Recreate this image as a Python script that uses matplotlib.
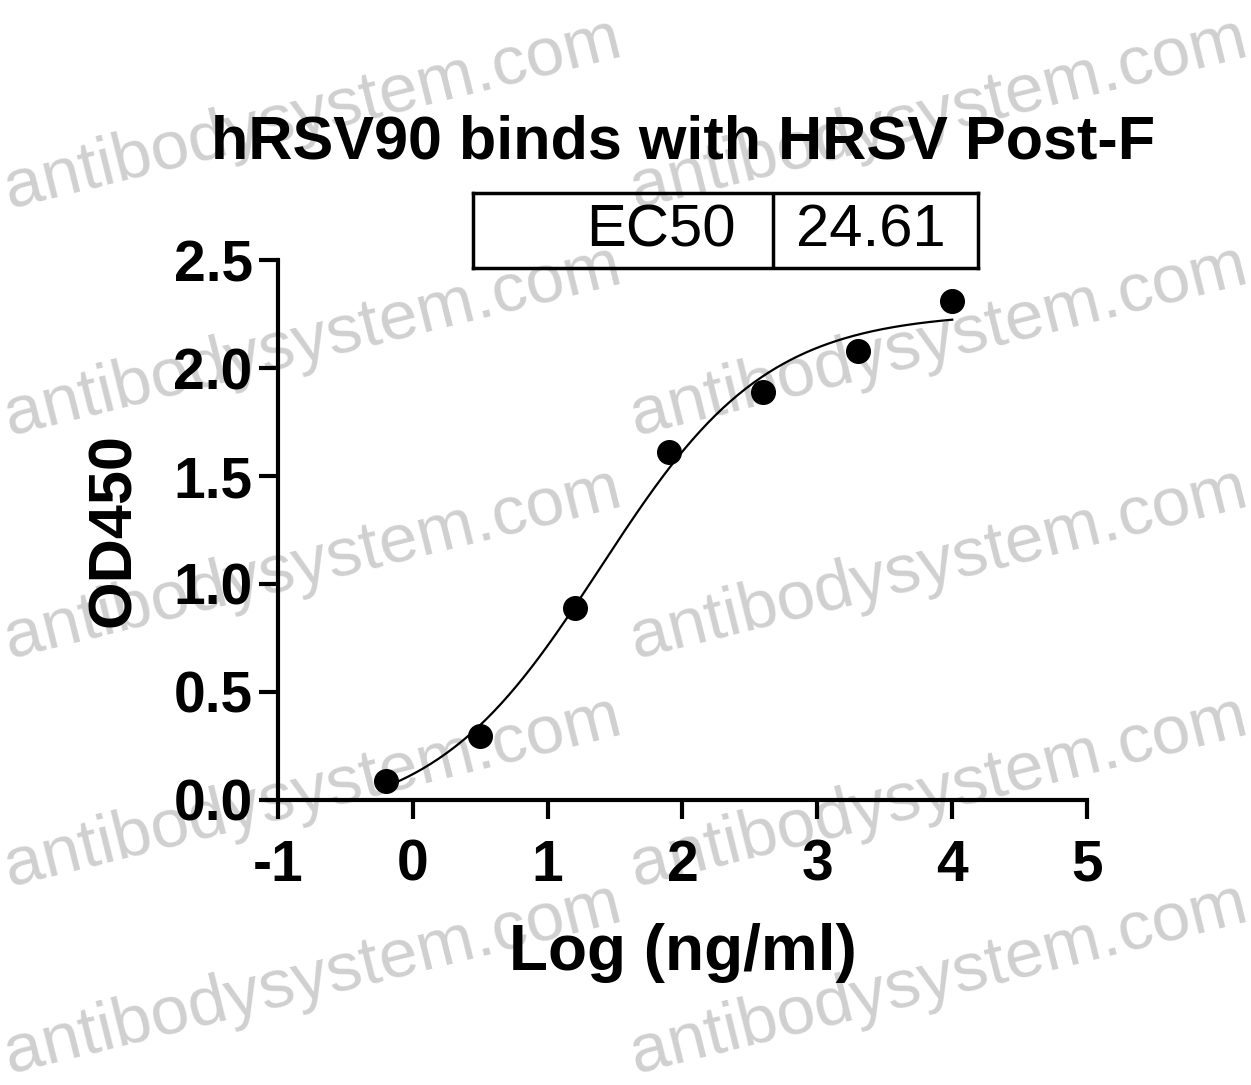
import numpy as np
import matplotlib
matplotlib.use("Agg")
import matplotlib.pyplot as plt

plt.rcParams['font.family'] = ['Liberation Sans', 'DejaVu Sans']

# data
log_conc = [-0.2, 0.5, 1.2, 1.9, 2.6, 3.3, 4.0]
od450 = [0.088, 0.296, 0.889, 1.61, 1.89, 2.08, 2.31]
ec50 = 24.61
title = "hRSV90 binds with HRSV Post-F"
x_ticks = [-1, 0, 1, 2, 3, 4, 5]
y_ticks = [0.0, 0.5, 1.0, 1.5, 2.0, 2.5]
watermark = "antibodysystem.com"


def four_pl(x, bottom, top, log_ec50, hill):
    return bottom + (top - bottom) / (1 + 10 ** ((log_ec50 - x) * hill))


# crude least squares for the 4PL curve, EC50 fixed to the reported one
xs = np.array(log_conc)
ys = np.array(od450)
log_ec50 = np.log10(ec50)
best = None
for b in np.linspace(-0.3, 0.2, 51):
    for t in np.linspace(2.0, 2.6, 61):
        for h in np.linspace(0.4, 1.4, 51):
            err = np.sum((four_pl(xs, b, t, log_ec50, h) - ys) ** 2)
            if best is None or err < best[0]:
                best = (err, b, t, h)
_, bottom, top, hill = best

fig = plt.figure(figsize=(12.51, 10.85), dpi=100)

ax = fig.add_axes([0.222, 0.263, 0.647, 0.497])
ax.patch.set_alpha(0)

xx = np.linspace(min(log_conc), max(log_conc), 300)
ax.plot(xx, four_pl(xx, bottom, top, log_ec50, hill), color="black", lw=1.6)
ax.plot(log_conc, od450, "o", color="black", ms=17, clip_on=False)

ax.set_xlim(-1, 5)
ax.set_ylim(0, 2.5)
ax.set_xticks(x_ticks)
ax.set_yticks(y_ticks)
ax.set_xticklabels([str(v) for v in x_ticks])
ax.set_yticklabels([f"{v:.1f}" for v in y_ticks])
for side in ["top", "right"]:
    ax.spines[side].set_visible(False)
for side in ["left", "bottom"]:
    ax.spines[side].set_linewidth(3)
ax.tick_params(width=3, length=14, labelsize=41)
for lab in ax.get_xticklabels() + ax.get_yticklabels():
    lab.set_fontweight("bold")
ax.tick_params(axis="y", pad=4)
ax.tick_params(axis="x", pad=14)

ax.set_xlabel("Log (ng/ml)", fontsize=46, fontweight="bold", labelpad=22)
ax.set_ylabel("OD450", fontsize=44, fontweight="bold", labelpad=22)

fig.text(0.546, 0.868, title, fontsize=44, fontweight="bold",
         ha="center", va="center")

# EC50 box
box = fig.add_axes([0.378, 0.753, 0.404, 0.069])
box.set_xlim(0, 1)
box.set_ylim(0, 1)
box.set_xticks([])
box.set_yticks([])
for s in box.spines.values():
    s.set_linewidth(2.5)
box.axvline(0.594, color="black", lw=2.5)
box.text(0.52, 0.5, "EC50", fontsize=43, ha="right", va="center")
box.text(0.64, 0.5, f"{ec50:.2f}", fontsize=43, ha="left", va="center")

# semi-transparent watermark laid over everything
for cx in [0.25, 0.75]:
    for cy in [0.895, 0.685, 0.48, 0.27, 0.097]:
        fig.text(cx, cy, watermark, fontsize=50, color="black", alpha=0.19,
                 rotation=14, ha="center", va="center", zorder=10)

fig.savefig("out.png", dpi=100)
